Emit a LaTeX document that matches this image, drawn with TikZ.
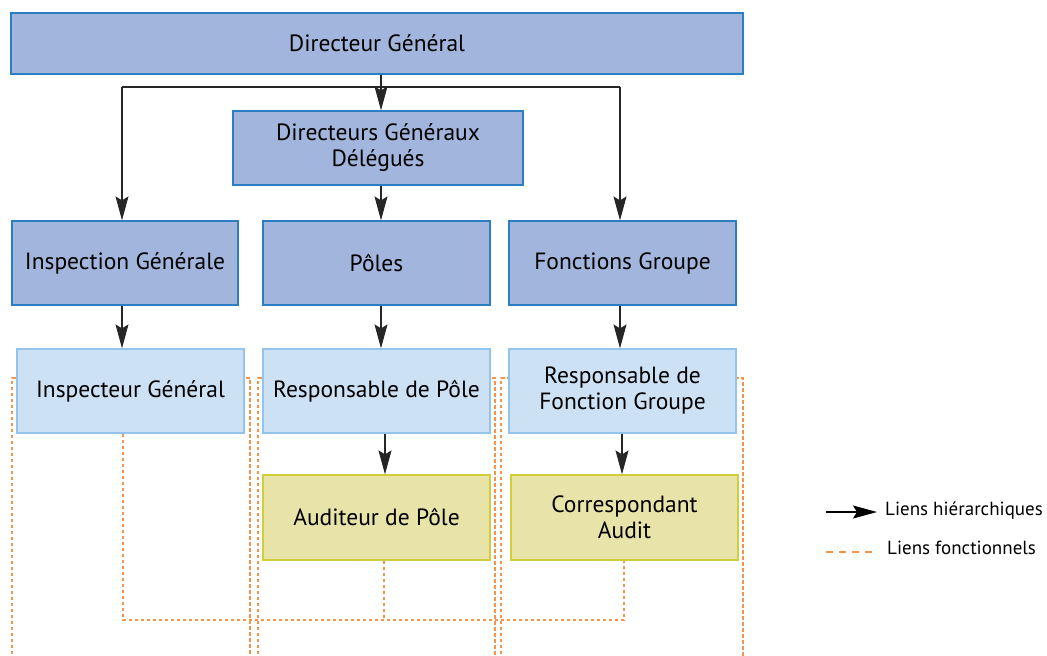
\documentclass[tikz,border=0pt]{standalone}
\usepackage{fontspec}
\setmainfont{PT Sans}
\usetikzlibrary{arrows.meta}
\definecolor{dkfill}{HTML}{A2B5DC}
\definecolor{dkdraw}{HTML}{2A7FC2}
\definecolor{ltfill}{HTML}{CCE1F4}
\definecolor{ltdraw}{HTML}{92C4EC}
\definecolor{yefill}{HTML}{E8E3A8}
\definecolor{yedraw}{HTML}{D2CE3A}
\definecolor{orline}{HTML}{F0944E}
\tikzset{
  x=1pt,y=-1pt,
  box/.style={draw,line width=1.2pt,inner sep=0pt,align=center,font=\fontsize{23.5}{26}\selectfont},
  dkbox/.style={box,fill=dkfill,draw=dkdraw},
  ltbox/.style={box,fill=ltfill,draw=ltdraw},
  yebox/.style={box,fill=yefill,draw=yedraw},
  hier/.style={line width=1.2pt,draw=black!85,-{Stealth[length=24pt,width=13pt,inset=4pt]}},
  fonc/.style={orline,line width=1.1pt,dash pattern=on 3.5pt off 2.5pt},
  legtxt/.style={anchor=west,inner sep=0pt,font=\fontsize{19}{21}\selectfont}
}
\newcommand{\bx}[7]{\node[#1,minimum width=#4-#2,minimum height=#5-#3] (#6) at ({(#2+#4)/2},{(#3+#5)/2}) {#7};}
\begin{document}
\begin{tikzpicture}
\useasboundingbox (0,0) rectangle (1047,656);
% functional dashed columns (behind)
\draw[fonc] (12,660) -- (12,378) -- (250,378) -- (250,660);
\draw[fonc] (258,660) -- (258,378) -- (495,378) -- (495,660);
\draw[fonc] (501,660) -- (501,378) -- (743,378) -- (743,660);
% boxes
\bx{dkbox}{11}{13}{743}{74}{dg}{Directeur Général}
\bx{dkbox}{233}{111}{523}{185}{dgd}{Directeurs Généraux\\Délégués}
\bx{dkbox}{12}{221}{238}{305}{ig}{Inspection Générale}
\bx{dkbox}{263}{221}{490}{305}{pol}{Pôles}
\bx{dkbox}{509}{221}{736}{305}{fg}{Fonctions Groupe}
\bx{ltbox}{17}{349}{244}{433}{insp}{Inspecteur Général}
\bx{ltbox}{263}{349}{490}{433}{rp}{Responsable de Pôle}
\bx{ltbox}{509}{349}{736}{433}{rfg}{Responsable de\\Fonction Groupe}
\bx{yebox}{263}{475}{490}{560}{ap}{Auditeur de Pôle}
\bx{yebox}{511}{475}{738}{560}{ca}{Correspondant\\Audit}
% coordinates
\coordinate (bus) at (381,87);
\coordinate (busL) at (122,87);
\coordinate (busR) at (620,87);
\coordinate (fb) at (384,620);
\coordinate (ax1) at (385,0);
\coordinate (ax2) at (622,0);
% hierarchical links
\draw[line width=1.2pt,draw=black!85] (dg.south -| bus) -- (bus);
\draw[line width=1.2pt,draw=black!85] (busL) -- (busR);
\draw[hier] (bus) -- (dgd.north -| bus);
\draw[hier] (busL) -- (ig.north -| busL);
\draw[hier] (busR) -- (fg.north -| busR);
\draw[hier] (dgd.south -| bus) -- (pol.north -| bus);
\draw[hier] (ig.south -| busL) -- (insp.north -| busL);
\draw[hier] (pol.south -| bus) -- (rp.north -| bus);
\draw[hier] (fg.south -| busR) -- (rfg.north -| busR);
\draw[hier] (rp.south -| ax1) -- (ap.north -| ax1);
\draw[hier] (rfg.south -| ax2) -- (ca.north -| ax2);
% functional links
\draw[fonc] (insp.south -| 123,0) -- (123,620) -- (624,620) -- (ca.south -| 624,0);
\draw[fonc] (ap.south -| fb) -- (fb);
% legend
\coordinate (l1a) at (826,512);
\coordinate (l1b) at (877,512);
\coordinate (l2a) at (826,552);
\coordinate (l2b) at (878,552);
\draw[line width=1.8pt,-{Stealth[length=24pt,width=13pt,inset=4pt]}] (l1a) -- (l1b);
\node[legtxt] (t1) at (885,511) {Liens hiérarchiques};
\draw[orline,line width=1.8pt,dash pattern=on 7pt off 6pt] (l2a) -- (l2b);
\node[legtxt] (t2) at (887,548) {Liens fonctionnels};
\end{tikzpicture}
\end{document}
